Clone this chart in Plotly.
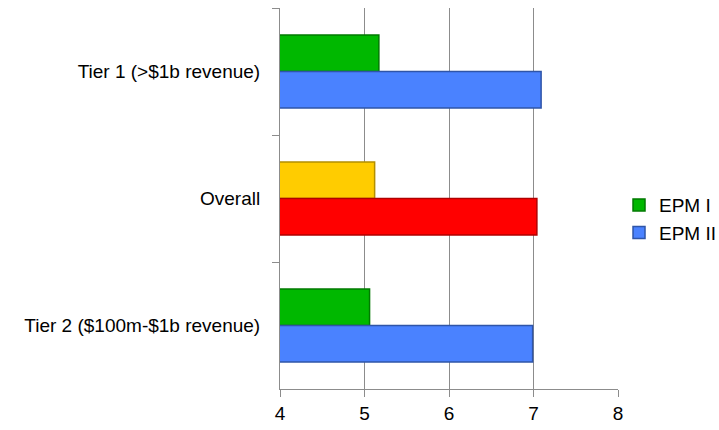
import plotly.graph_objects as go

# Survey segments (top to bottom) and scores for each EPM wave
segments = ["Tier 1 (>$1b revenue)", "Overall", "Tier 2 ($100m-$1b revenue)"]
epm1_scores = [5.17, 5.12, 5.06]
epm2_scores = [7.09, 7.04, 6.99]

# The "Overall" row is highlighted in warm colours
epm1_fill = ["#00b800", "#ffcc00", "#00b800"]
epm1_line = ["#007a00", "#b38f00", "#007a00"]
epm2_fill = ["#4a82ff", "#ff0000", "#4a82ff"]
epm2_line = ["#2f55a8", "#b00000", "#2f55a8"]

font_family = "Liberation Sans, Arial, sans-serif"

fig = go.Figure()
fig.add_trace(go.Bar(
    name="EPM I", y=segments, x=epm1_scores, orientation="h",
    marker=dict(color=epm1_fill, line=dict(color=epm1_line, width=1.5)),
))
fig.add_trace(go.Bar(
    name="EPM II", y=segments, x=epm2_scores, orientation="h",
    marker=dict(color=epm2_fill, line=dict(color=epm2_line, width=1.5)),
))

fig.update_layout(
    width=719, height=430,
    margin=dict(l=280, r=101, t=8, b=41, autoexpand=False),
    paper_bgcolor="white", plot_bgcolor="white",
    barmode="group", bargap=0.425, bargroupgap=0,
    font=dict(family=font_family, size=19, color="#000000"),
    showlegend=True,
    legend=dict(
        x=1.003, y=0.446, xanchor="left", yanchor="middle",
        font=dict(size=19), itemwidth=30, tracegroupgap=0,
        bgcolor="rgba(0,0,0,0)",
    ),
    xaxis=dict(
        range=[4, 8], dtick=1, tick0=4,
        showgrid=True, gridcolor="#8c8c8c", gridwidth=1,
        showline=True, linecolor="#8c8c8c", linewidth=1,
        ticks="outside", ticklen=7, tickcolor="#8c8c8c",
        zeroline=False, fixedrange=True,
    ),
    yaxis=dict(
        autorange="reversed", type="category",
        showline=True, linecolor="#8c8c8c", linewidth=1,
        ticks="outside", ticklen=7, tickcolor="#8c8c8c",
        tickson="boundaries", ticklabelstandoff=15,
        showgrid=False, fixedrange=True,
    ),
)

fig.write_html("out.html")
